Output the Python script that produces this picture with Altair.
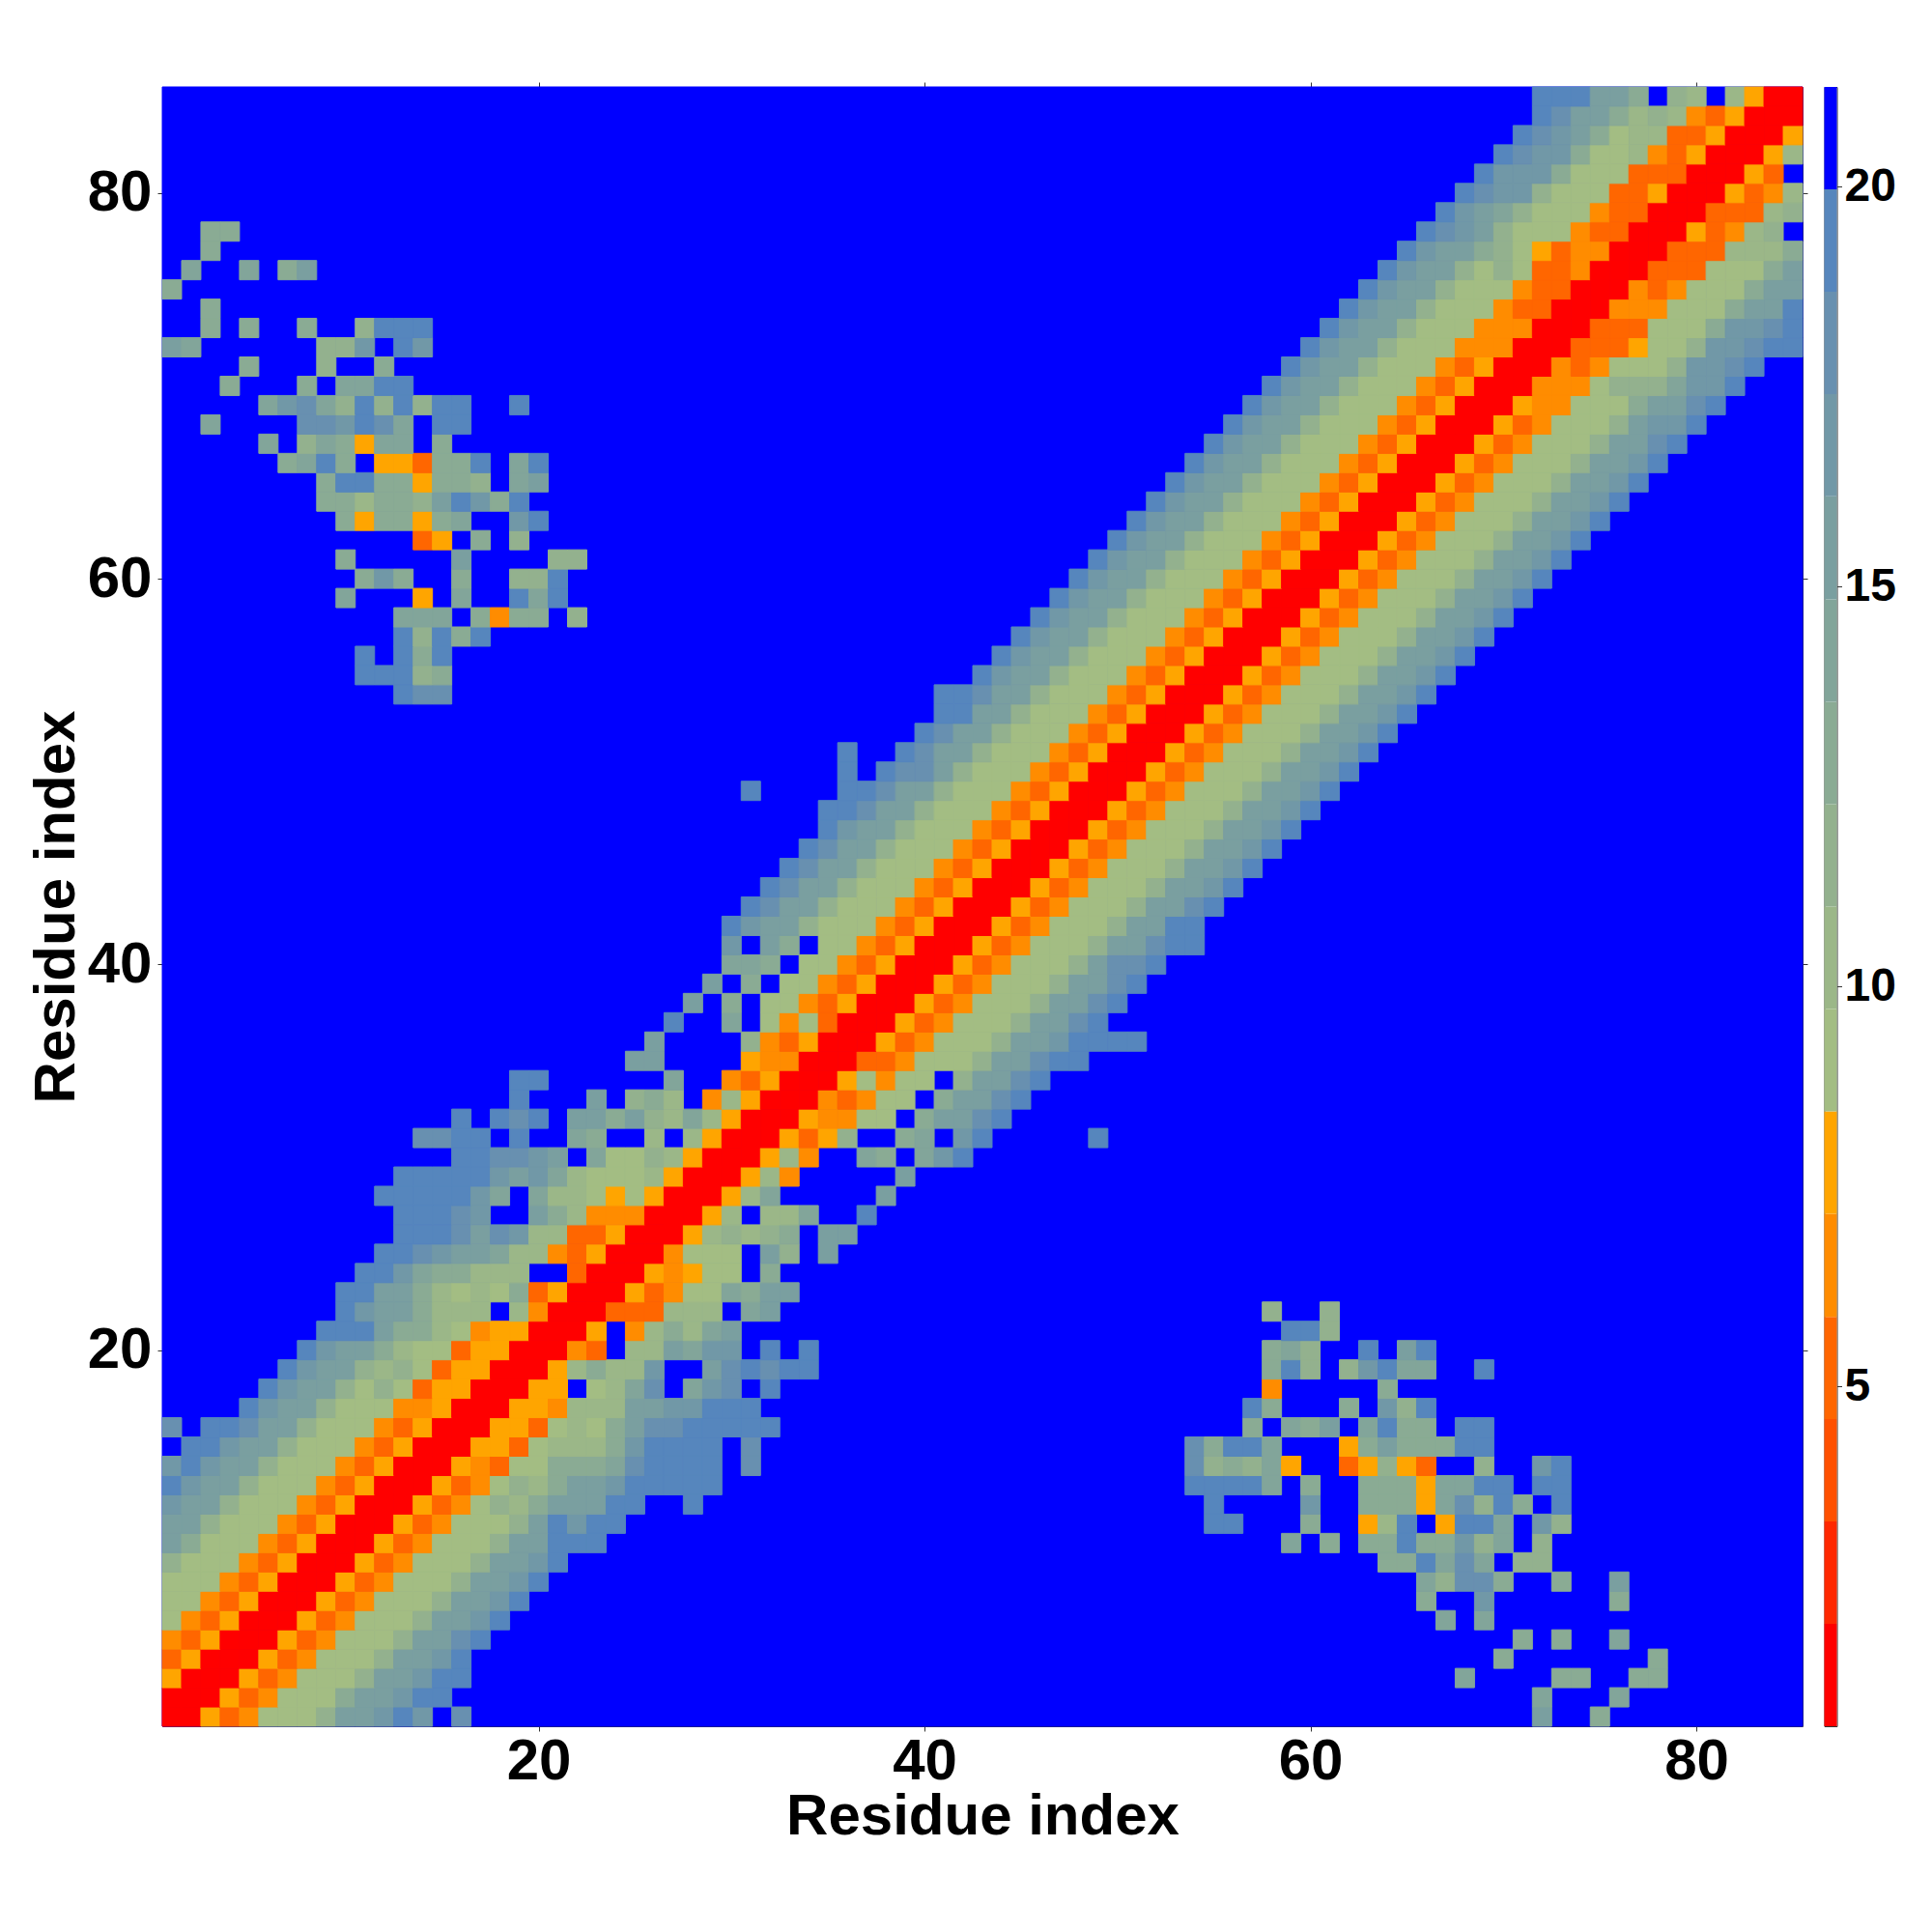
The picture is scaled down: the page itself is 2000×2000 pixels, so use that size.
import altair as alt
import pandas as pd

alt.data_transformers.disable_max_rows()

LEVELS = list("0123456789abcdef")
COLORS = ["#ff0000", "#ff2800", "#ff5000", "#ff6600", "#ff8c00", "#ffa500",
          "#a3bd83", "#9bb788", "#93b18e", "#8aab94", "#82a59a", "#7a9fa0",
          "#7198a7", "#6890b0", "#5686bd", "#0000ff"]
LEVEL_EDGES = [0.75, 2.03, 3.31, 4.59, 5.87, 7.16, 8.44, 9.72, 11.0, 12.28,
               13.56, 14.84, 16.13, 17.41, 18.69, 19.97, 21.25]
TICKS = [20, 40, 60, 80]
BAR_TICKS = [5, 10, 15, 20]
N = 85

# Each row: levels at x = row, row + 1, ... (the map is symmetric); blue beyond the end
BAND = [
    "005346668bbcecfd", "005346669bbcee", "005346668bbcee", "005346668bbce",
    "005346668bbde", "005346668bbce", "005346668bbce", "005346668bbce",
    "005346668bbce", "005346668bbeee", "005346668becee", "005346879bbbeeffe",
    "005346879bbceeeee", "0054366999adeeeefd", "0055367779ceeeefd",
    "005536769bddeeeee", "00554777bbcceee", "0055f67adfacdfe",
    "0057977cffbdedee", "0043f77baccfefe", "005f4797ab", "00333777fab",
    "0053466a9bb", "0054566f9", "004666fb8fb", "00578789fbb", "0057f77affe",
    "0057afffffb", "00574fffffb", "00574ffa9face", "005358ff9afcefffffe",
    "0054466f9bbde", "0043466f9bbde", "0056466f8bbde", "003346668bbdee",
    "005346668bbceeee", "005346668bbde", "005346668bbde", "005346668bbde",
    "005346668bdde", "005346668bbdee", "005346668bbee", "005346668bbde",
    "005346668bbce", "005346668bbce", "005346668bbce", "005346668bbce",
    "005346668bbce", "005346668bbce", "005346668bbce", "005346668bbce",
    "005346668bbce", "005346668bbce", "005346668bbce", "005346668bbce",
    "005346668bbce", "005346668bbce", "005346668bbce", "005346668bbce",
    "005346668bbce", "005346668bbce", "005346668bbce", "005346668bbce",
    "005346668bbce", "005346668bbce", "005346668bbce", "005346668bbde",
    "005346668bcce", "005446669bbde", "004446888acce", "004346668ccde",
    "003335668ccdee", "003336669ccde", "004446669bbe", "004346669bb",
    "003336669b", "003337779", "0053478f", "0033378", "005347", "0053f",
    "0057", "005", "00", "0",
]

# Rows 1..22, columns 54..78: the contact island away from the diagonal
ISLAND = [
    "ffffffffffffffffffbff9fff",
    "ffffffffffffffffffafffaff",
    "ffffffffffffffaffff99ff99",
    "ffffffffffffffff9fffffff9",
    "fffffffffffffffff9f9ffaff",
    "fffffffffffffafafffffffff",
    "ffffffffffff9ffcffffff9ff",
    "ffffffffffffa8dd9ff9ffbff",
    "ffffffffff99eadaf88ffffff",
    "fffffaf9f99e99c8af8ffffff",
    "feefff9ff57ef5eeafc8fffff",
    "feffffcff9995ad8e9fefffff",
    "eeeeaf9ff9995aaeefeefffff",
    "d898a5ff35853ff8ffcefffff",
    "d9eeafff59b999eefffffffff",
    "fff9fa9bfae99feefffffffff",
    "fffe9fff9fc8effffffffffff",
    "ffff4fffff9ffffffffffffff",
    "ffff9e8f8ceaaffefffffffff",
    "ffff9a8ffefbeffffffffffff",
    "fffffee8fffffffffffffffff",
    "ffff8ff8fffffffffffffffff",
]

grid = [["f"] * N for _ in range(N)]
for r, text in enumerate(BAND):
    for d, ch in enumerate(text):
        if r + d < N:
            grid[r][r + d] = ch
            grid[r + d][r] = ch
for r, text in enumerate(ISLAND):
    for c, ch in enumerate(text):
        if ch != "f":
            grid[r][53 + c] = ch
            grid[53 + c][r] = ch

# Blue cells are one rectangle drawn first, behind the others, so that no seams show
cells = pd.DataFrame(
    [{"x": 0.5, "x2": N + 0.5, "y": 0.5, "y2": N + 0.5, "level": "f"}] +
    [{"x": c + 0.5, "x2": c + 1.5, "y": r + 0.5, "y2": r + 1.5, "level": grid[r][c]}
     for r in range(N) for c in range(N) if grid[r][c] != "f"]
)
bar = pd.DataFrame({"lo": LEVEL_EDGES[:-1], "hi": LEVEL_EDGES[1:], "level": LEVELS})
tick_df = pd.DataFrame({"v": TICKS})

FONT = "Liberation Sans"
x_scale = alt.Scale(domain=[0.5, 85.5], nice=False, zero=False)
y_scale = alt.Scale(domain=[0.5, 85.5], nice=False, zero=False)
col_scale = alt.Scale(domain=LEVELS, range=COLORS)

heat = alt.Chart(cells).mark_rect(strokeWidth=1).encode(
    x=alt.X("x:Q", scale=x_scale, axis=alt.Axis(
        values=TICKS, title="Residue index", grid=False, domain=False, format="d",
        tickSize=5, tickColor="#333", labelFontSize=60, titleFontSize=60,
        labelPadding=2, titlePadding=-1.5, labelFlush=False, labelOverlap=False)),
    x2="x2:Q",
    y=alt.Y("y:Q", scale=y_scale, axis=alt.Axis(
        values=TICKS, title="Residue index", grid=False, domain=False, format="d",
        tickSize=5, tickColor="#333", labelFontSize=60, titleFontSize=60,
        labelPadding=6, titlePadding=0.5, labelFlush=False, labelOverlap=False)),
    y2="y2:Q",
    color=alt.Color("level:N", scale=col_scale, legend=None),
    stroke=alt.Stroke("level:N", scale=col_scale, legend=None),
)

mirror = alt.Chart(tick_df).mark_point(opacity=0).encode(
    x=alt.X("v:Q", scale=x_scale, axis=alt.Axis(
        orient="top", values=TICKS, title=None, labels=False, grid=False, domain=False,
        tickSize=5, tickColor="#333")),
    y=alt.Y("v:Q", scale=y_scale, axis=alt.Axis(
        orient="right", values=TICKS, title=None, labels=False, grid=False, domain=False,
        tickSize=5, tickColor="#333")),
)

main = alt.layer(heat, mirror).resolve_scale(x="independent", y="independent").properties(
    width=1698, height=1697)

colorbar = alt.Chart(bar).mark_rect().encode(
    x=alt.value(0), x2=alt.value(13),
    y=alt.Y("lo:Q", scale=alt.Scale(domain=[0.75, 21.25], nice=False, zero=False), axis=alt.Axis(
        orient="right", values=BAR_TICKS, title=None, grid=False, domain=False, format="d",
        tickSize=5, tickColor="#333", labelFontSize=48, labelPadding=2.5, labelFlush=False,
        labelOverlap=False)),
    y2="hi:Q",
    color=alt.Color("level:N", scale=col_scale, legend=None),
).properties(width=13, height=1697)

chart = alt.hconcat(main, colorbar, spacing=15.5).properties(
    padding={"left": 20, "top": 76, "right": 5, "bottom": 5}
).configure_view(stroke="#333", strokeWidth=1).configure_axis(
    labelFont=FONT, titleFont=FONT, labelFontWeight="bold", titleFontWeight="bold",
    labelColor="#000", titleColor="#000"
)

chart.save("out.html", embed_options={"renderer": "svg", "actions": False})
